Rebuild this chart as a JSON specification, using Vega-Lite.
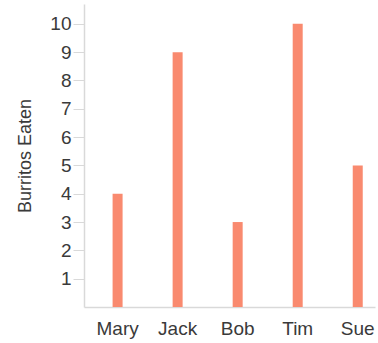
{
  "$schema": "https://vega.github.io/schema/vega-lite/v6.json",
  "width": 291,
  "height": 303,
  "autosize": {"type": "none"},
  "padding": {"left": 84, "top": 4, "right": 3, "bottom": 36},
  "background": "white",
  "config": {"view": {"stroke": null}, "font": "Liberation Sans"},
  "data": {"values": [
    {"name": "Mary", "burritos": 4},
    {"name": "Jack", "burritos": 9},
    {"name": "Bob", "burritos": 3},
    {"name": "Tim", "burritos": 10},
    {"name": "Sue", "burritos": 5}
  ]},
  "mark": {"type": "bar", "color": "#f98a6f", "width": 10},
  "encoding": {
    "x": {
      "field": "name", "type": "nominal", "sort": null,
      "scale": {"paddingInner": 0.833, "paddingOuter": 0.34, "align": 0.7},
      "axis": {"title": null, "labelAngle": 0, "ticks": false, "domainColor": "#d9d9d9", "domainWidth": 1.5, "labelFontSize": 19, "labelColor": "#3a3a3a", "labelPadding": 12, "labelFont": "Liberation Sans"}
    },
    "y": {
      "field": "burritos", "type": "quantitative",
      "scale": {"domain": [0, 10.7], "nice": false},
      "axis": {"title": "Burritos Eaten", "titleFontSize": 18, "titleFontWeight": "normal", "titleColor": "#3a3a3a", "titlePadding": 15, "values": [1,2,3,4,5,6,7,8,9,10], "grid": false, "tickSize": 11, "tickColor": "#d9d9d9", "domainColor": "#d9d9d9", "domainWidth": 1.5, "labelFontSize": 19, "labelColor": "#3a3a3a", "labelPadding": 2, "labelFont": "Liberation Sans"}
    }
  }
}
